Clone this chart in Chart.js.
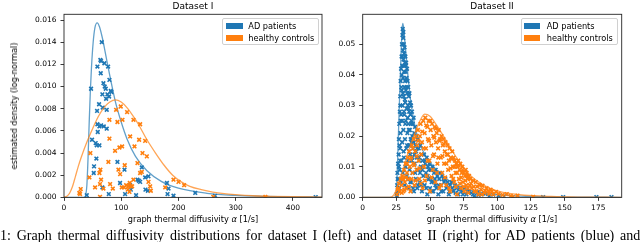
<!DOCTYPE html>
<html><head><meta charset="utf-8">
<script src="https://cdn.jsdelivr.net/npm/chart.js@4.4.0/dist/chart.umd.min.js"></script>
<style>
body{margin:0;width:640px;height:242px;overflow:hidden;background:#fff;position:relative;font-family:'DejaVu Sans',sans-serif;color:#000}
canvas{position:absolute;top:0}
.t{position:absolute;white-space:nowrap;line-height:12px;height:12px}
.c{transform:translateX(-50%)}
.title{font-size:9px}
.lab{font-size:8.2px}
.leg{position:absolute;border:1px solid #d0d0d0;border-radius:2px;background:rgba(255,255,255,0.85);box-sizing:border-box}
.patch{position:absolute;width:16.5px;height:5.8px}
.legt{position:absolute;font-size:8.2px;line-height:10px;white-space:nowrap}
.cap{position:absolute;left:0;top:229px;font-family:'Liberation Serif',serif;font-size:14px;word-spacing:2.3px;white-space:nowrap;line-height:14px}
</style></head><body>
<canvas id="c1" width="330" height="228" style="left:0"></canvas>
<canvas id="c2" width="310" height="228" style="left:330px"></canvas>

<div class="t c title" style="left:193px;top:0px">Dataset I</div>
<div class="t c title" style="left:492px;top:0px">Dataset II</div>
<div class="t c lab" style="left:193px;top:213px">graph thermal diffusivity <i>α</i> [1/s]</div>
<div class="t c lab" style="left:492px;top:213px">graph thermal diffusivity <i>α</i> [1/s]</div>
<div class="t lab" style="left:14px;top:106px;transform:translate(-50%,-50%) rotate(-90deg)">estimated density (log-normal)</div>

<div class="leg" style="left:222px;top:18px;width:97px;height:27px"></div>
<div class="patch" style="left:226px;top:22.8px;background:#1f77b4"></div>
<div class="patch" style="left:226px;top:34.8px;background:#ff7f0e"></div>
<div class="legt" style="left:248.3px;top:20.7px">AD patients</div>
<div class="legt" style="left:248.3px;top:32.7px">healthy controls</div>

<div class="leg" style="left:520.7px;top:18px;width:97px;height:27px"></div>
<div class="patch" style="left:523.5px;top:22.8px;background:#1f77b4"></div>
<div class="patch" style="left:523.5px;top:34.8px;background:#ff7f0e"></div>
<div class="legt" style="left:546.7px;top:20.7px">AD patients</div>
<div class="legt" style="left:546.7px;top:32.7px">healthy controls</div>

<div class="cap">1: Graph thermal diffusivity distributions for dataset I (left) and dataset II (right) for AD patients (blue) and</div>

<script>
// ---------- Dataset I ----------
const ds1XTicks = [0, 100, 200, 300, 400];
const ds1YTicks = [0, 0.002, 0.004, 0.006, 0.008, 0.010, 0.012, 0.014, 0.016];
const ds1BluePts = [[66.0,.0140],[63.6,.0124],[64.8,.0123],[70.6,.0121],[58.4,.0118],[77.1,.0118],[64.2,.0112],[79.4,.0106],[68.9,.0103],[71.2,.0100],[73.0,.0098],[47.3,.0098],[67.1,.0093],[75.9,.0093],[73.6,.0089],[81.7,.0096],[82.9,.0095],[78.8,.0091],[61.3,.0084],[67.7,.0081],[57.8,.0078],[74.7,.0079],[58.4,.0066],[64.8,.0065],[61.9,.0064],[69.5,.0064],[74.7,.0062],[59.0,.0059],[49.0,.0052],[55.4,.0049],[57.2,.0047],[61.9,.0047],[56.6,.0035],[52.5,.0028],[52.0,.0022],[93.4,.0032],[98.0,.0013],[105.7,.0025],[67.1,.0009],[78.3,.0003],[106.8,.0003],[126.0,.0002],[115.6,.0011],[116.8,.0007],[136.0,.0027],[128.4,.0016],[130.8,.0015],[133.1,.0014],[141.9,.0018],[147.6,.0019],[142.4,.0007],[146.6,.0006],[179.9,.0013],[182.7,.0008],[181.0,.0003],[191.4,.00015],[229.4,.0004],[39.8,.0002],[264,.00014],[440,.00003]];
const ds1OrangePts = [[91.1,.0079],[99.2,.0082],[110.3,.0077],[93.4,.0068],[102.2,.0070],[121.4,.0070],[79.4,.0070],[79.4,.0053],[133.1,.0066],[115.6,.0055],[96.9,.0045],[101.6,.0046],[89.3,.0042],[131.3,.0052],[141.9,.0051],[123.2,.0046],[137.2,.0040],[144.8,.0037],[46.1,.0040],[106.2,.0029],[77.6,.0032],[63.6,.0025],[95.2,.0025],[128.4,.0031],[61.9,.0022],[98.1,.0021],[44.4,.0018],[136.0,.0023],[133.1,.0022],[121.4,.0016],[54.3,.0009],[68.9,.0008],[80.6,.0012],[85.3,.0008],[101.0,.0009],[105.1,.0009],[108.6,.0011],[112.7,.0010],[115.0,.0013],[116.8,.0010],[119.1,.0010],[111.5,.0007],[114.4,.0005],[147.7,.0014],[150.6,.0010],[151.8,.0006],[29.2,.00075],[26.8,.0004],[28.0,.0003],[63.0,.00005],[191.4,.0016],[200.2,.0014],[210.0,.0011],[176.9,.0009],[63.0,.0012],[64.8,.0016],[261,.00005],[352,.00005]];
const ds1BlueCurve = [[0,0],[36,0],[37,0.00005],[38,0.0002],[40,0.0011],[42,0.0035],[44,0.0067],[46,0.0095],[48,0.0117],[51,0.0140],[54,0.0153],[58,0.01575],[62,0.0154],[67,0.0144],[72,0.0131],[80,0.0110],[90,0.0086],[100,0.0068],[110,0.0053],[125,0.0037],[145,0.0024],[170,0.00145],[200,0.00083],[250,0.00037],[300,0.00018],[350,0.0001],[400,0.00005],[451,0.00003]];
const ds1OrangeCurve = [[0,0.00003],[5,0.0001],[10,0.0004],[15,0.0010],[20,0.0019],[25,0.0028],[30,0.0036],[40,0.0050],[50,0.0062],[60,0.0073],[70,0.0081],[80,0.0086],[90,0.0088],[100,0.0086],[110,0.0081],[120,0.0074],[130,0.0066],[145,0.0052],[160,0.0040],[175,0.0029],[190,0.0020],[205,0.0014],[220,0.0010],[240,0.0007],[260,0.00048],[280,0.00034],[300,0.00025],[330,0.00015],[360,0.0001],[400,0.00006],[451,0.00003]];

// ---------- Dataset II ----------
const ds2XTicks = [0, 25, 50, 75, 100, 125, 150, 175];
const ds2YTicks = [0, 0.01, 0.02, 0.03, 0.04, 0.05];
const ds2BluePts = [[25.3,.001],[25.6,.004],[25.8,.008],[26.1,.002],[26.3,.011],[26.5,.006],[26.7,.014],[26.9,.019],[27.1,.003],[27.2,.024],[27.4,.009],[27.6,.028],[27.8,.016],[27.9,.033],[28.1,.021],[28.2,.038],[28.4,.005],[28.5,.042],[28.6,.027],[28.8,.012],[28.9,.046],[29.0,.035],[29.2,.050],[29.3,.018],[29.4,.043],[29.5,.053],[29.6,.030],[29.7,.055],[29.8,.008],[29.9,.048],[30.0,.039],[30.1,.052],[30.2,.022],[30.3,.045],[30.4,.033],[30.5,.050],[30.6,.013],[30.7,.041],[30.8,.047],[30.9,.027],[31.0,.036],[31.1,.049],[31.2,.004],[31.3,.044],[31.4,.019],[31.5,.038],[31.6,.031],[31.7,.046],[31.8,.010],[31.9,.041],[32.0,.025],[32.1,.035],[32.3,.044],[32.4,.016],[32.5,.039],[32.6,.029],[32.8,.007],[32.9,.042],[33.0,.034],[33.2,.021],[33.3,.038],[33.5,.012],[33.6,.030],[33.8,.036],[33.9,.024],[34.1,.003],[34.2,.033],[34.4,.017],[34.5,.028],[34.7,.034],[34.8,.009],[35.0,.022],[35.2,.031],[35.3,.014],[35.5,.027],[35.7,.019],[35.9,.030],[36.0,.005],[36.2,.025],[36.4,.012],[36.6,.028],[36.8,.020],[37.0,.008],[37.2,.024],[37.5,.016],[37.8,.026],[38.0,.002],[38.3,.021],[38.6,.011],[38.9,.023],[39.2,.017],[39.5,.006],[39.8,.020],[40.2,.013],[40.5,.003],[40.8,.019],[41.2,.009],[41.6,.016],[42.0,.012],[42.4,.005],[42.8,.017],[43.2,.010],[43.6,.014],[44.0,.002],[44.5,.012],[45.0,.007],[45.5,.014],[46.0,.004],[46.5,.011],[47.0,.008],[47.5,.013],[48.0,.001],[48.5,.010],[49.0,.006],[49.5,.011],[50.0,.003],[50.6,.009],[51.2,.005],[51.8,.010],[52.4,.002],[53.0,.008],[53.6,.006],[54.2,.009],[54.8,.003],[55.5,.007],[56.2,.001],[56.8,.006],[57.5,.008],[58.2,.004],[59.0,.007],[59.8,.002],[60.5,.005],[61.3,.006],[62.2,.003],[63.0,.005],[64.0,.001],[65.0,.004],[66.0,.005],[67.2,.002],[68.5,.004],[69.8,.003],[71.0,.001],[72.5,.003],[74.0,.002],[75.5,.003],[77.0,.001],[79.0,.002],[81.0,.0015],[83.0,.0005],[85.5,.0018],[88.0,.001],[91.0,.0012],[94.0,.0004],[97.0,.0009],[101,.0006],[105,.0003],[134,.0001],[148.9,.0001],[173.6,.0001],[184.8,.0001],
[25.5,.0005],[26.0,.006],[26.4,.003],[26.8,.010],[27.3,.017],[27.7,.012],[28.0,.030],[28.3,.025],[28.7,.036],[29.1,.040],[29.4,.025],[29.6,.046],[29.9,.034],[30.2,.054],[30.4,.015],[30.7,.028],[31.0,.043],[31.3,.032],[31.6,.024],[32.0,.043],[32.2,.011],[32.6,.036],[33.0,.017],[33.4,.026],[33.7,.006],[34.0,.029],[34.3,.022],[34.9,.017],[35.4,.005],[35.8,.024],[36.3,.018],[36.9,.013],[37.4,.003],[37.9,.018],[38.5,.014],[39.0,.008],[39.6,.015],[40.4,.016],[41.0,.004],[41.8,.013],[42.6,.008],[43.4,.004],[44.2,.009],[45.2,.010],[46.2,.012],[47.2,.003],[48.2,.007],[49.2,.009],[50.3,.006],[51.5,.002],[52.7,.005],[54.0,.004],[55.0,.008],[56.5,.004],[58.5,.002],[60.0,.006],[62.5,.004],[64.5,.002],[66.5,.003],[69.0,.0015],[71.5,.0025],[74.5,.001],[78.0,.0018],[82.0,.001],[86.0,.0008]];
const ds2OrangePts = [[25.5,.001],[26.5,.003],[27.5,.002],[28.2,.006],[28.8,.004],[29.5,.007],[30.2,.002],[30.8,.009],[31.3,.005],[31.9,.011],[32.4,.003],[32.9,.008],[33.5,.013],[34.0,.006],[34.5,.015],[35.0,.010],[35.5,.002],[36.0,.013],[36.5,.017],[37.0,.008],[37.5,.011],[38.0,.019],[38.5,.004],[39.0,.015],[39.5,.020],[40.0,.009],[40.5,.017],[41.0,.022],[41.5,.012],[42.0,.006],[42.5,.020],[43.0,.024],[43.5,.014],[44.0,.018],[44.5,.003],[45.0,.025],[45.5,.010],[46.0,.021],[46.5,.026],[47.0,.016],[47.5,.007],[48.0,.023],[48.5,.019],[49.0,.025],[49.5,.012],[50.0,.002],[50.5,.022],[51.0,.017],[51.5,.024],[52.0,.009],[52.5,.020],[53.0,.014],[53.5,.023],[54.0,.005],[54.5,.018],[55.0,.021],[55.5,.011],[56.0,.016],[56.5,.022],[57.0,.003],[57.5,.019],[58.0,.013],[58.5,.020],[59.0,.008],[59.5,.017],[60.0,.019],[60.5,.011],[61.0,.015],[61.5,.018],[62.0,.004],[62.5,.014],[63.0,.017],[63.5,.009],[64.0,.012],[64.5,.016],[65.0,.002],[65.5,.013],[66.0,.007],[66.5,.015],[67.0,.010],[67.5,.013],[68.0,.005],[68.5,.012],[69.0,.008],[69.5,.011],[70.0,.001],[70.5,.010],[71.0,.012],[71.5,.006],[72.0,.009],[72.5,.011],[73.0,.003],[73.5,.008],[74.0,.010],[74.5,.005],[75.0,.008],[75.5,.002],[76.0,.007],[76.5,.009],[77.0,.004],[77.5,.007],[78.0,.006],[78.5,.0015],[79.0,.007],[79.5,.004],[80.0,.006],[81.0,.003],[82.0,.0055],[83.0,.002],[84.0,.005],[85.0,.0035],[86.0,.001],[87.0,.004],[88.0,.0025],[89.0,.0038],[90.5,.0015],[92.0,.003],[93.5,.002],[95.0,.0025],[97.0,.001],[99.0,.0018],[101,.0012],[104,.0008],[107,.0011],[110,.0005],[111.7,.0002],[115,.0006],[126.6,.0002],
[26.0,.0025],[27.0,.0045],[29.0,.0015],[30.0,.0060],[31.0,.0025],[32.0,.0065],[33.0,.0110],[34.2,.0035],[35.2,.0125],[36.2,.0060],[37.2,.0160],[38.2,.0105],[39.2,.0055],[40.2,.0135],[41.2,.0185],[42.2,.0095],[43.2,.0045],[44.2,.0215],[45.2,.0160],[46.2,.0055],[47.2,.0235],[48.2,.0120],[49.2,.0185],[50.2,.0250],[51.2,.0065],[52.2,.0135],[53.2,.0195],[54.2,.0225],[55.2,.0080],[56.2,.0130],[57.2,.0185],[58.2,.0040],[59.2,.0135],[60.2,.0175],[61.2,.0065],[62.2,.0110],[63.2,.0140],[64.2,.0030],[65.2,.0095],[66.2,.0125],[67.2,.0060],[68.2,.0100],[69.2,.0035],[70.2,.0080],[71.2,.0105],[72.2,.0045],[73.2,.0065],[74.2,.0090],[75.2,.0035],[76.2,.0055],[77.2,.0080],[78.2,.0030],[80.5,.0045],[82.5,.0035],[84.5,.0020],[86.5,.0042],[88.5,.0010],[91.0,.0022],[94.0,.0012],[96.0,.0020]];
const ds2BlueCurve = [[0,0],[24,0],[24.8,0.0005],[25.5,0.006],[26.5,0.020],[27.5,0.034],[28.5,0.047],[29.3,0.055],[29.8,0.0568],[30.5,0.055],[31.5,0.050],[32.5,0.045],[33.8,0.039],[35.5,0.032],[37.5,0.0263],[40,0.021],[42.5,0.0176],[45,0.0150],[50,0.0115],[55,0.0089],[60,0.0068],[65,0.0052],[70,0.0040],[80,0.0024],[90,0.0015],[100,0.0009],[110,0.0006],[125,0.0003],[150,0.0001],[192,0.00003]];
const ds2OrangeCurve = [[0,0],[20,0],[22,0.0003],[24,0.0015],[26,0.004],[28,0.0065],[30,0.009],[34,0.015],[38,0.020],[42,0.0245],[46,0.0272],[50,0.0265],[55,0.0235],[60,0.0200],[65,0.0163],[70,0.0128],[75,0.0097],[80,0.0072],[87,0.0048],[95,0.0029],[100,0.0021],[110,0.0012],[120,0.0007],[140,0.0003],[160,0.00012],[192,0.00004]];

const BLUE = '#1f77b4', ORANGE = '#ff7f0e';
const toXY = a => a.map(p => ({x: p[0], y: p[1]}));

const framePlugin = {
  id: 'frame',
  afterDraw(chart) {
    const {ctx, chartArea: a} = chart;
    ctx.save();
    ctx.strokeStyle = '#262626';
    ctx.lineWidth = 0.9;
    ctx.strokeRect(a.left, a.top, a.right - a.left, a.bottom - a.top);
    ctx.restore();
  }
};

function makeChart(id, cfg) {
  const ptsDs = (data, color, order) => ({
    data: toXY(data), showLine: false, pointStyle: 'crossRot',
    pointRadius: 2.6, pointBorderWidth: 1.6, borderColor: color, backgroundColor: color, order
  });
  const lineDs = (data, color, order) => ({
    data: toXY(data), showLine: true, pointRadius: 0, borderWidth: 1.3,
    borderColor: color, cubicInterpolationMode: 'monotone', order
  });
  return new Chart(document.getElementById(id), {
    type: 'scatter',
    data: { datasets: [
      lineDs(cfg.orangeCurve, 'rgba(255,127,14,0.7)', 0),
      ptsDs(cfg.orangePts, ORANGE, 1),
      lineDs(cfg.blueCurve, 'rgba(31,119,180,0.7)', 2),
      ptsDs(cfg.bluePts, BLUE, 3)
    ]},
    options: {
      responsive: false, animation: false, devicePixelRatio: 1,
      layout: { padding: { left: 0, right: cfg.padRight, top: 14.3, bottom: 0 } },
      plugins: { legend: { display: false }, tooltip: { enabled: false } },
      scales: {
        x: {
          type: 'linear', min: 0, max: cfg.xMax,
          afterBuildTicks: s => { s.ticks = cfg.xTicks.map(v => ({value: v})); },
          afterFit: s => { s.height = 228 - 197.4; },
          grid: { drawOnChartArea: false, drawTicks: true, tickLength: 3.5, tickColor: '#262626', tickWidth: 0.9 },
          border: { display: false },
          ticks: { color: '#000', font: { family: 'DejaVu Sans', size: 7.5 }, padding: 2.5, maxRotation: 0, autoSkip: false,
                   callback: v => String(v) }
        },
        y: {
          type: 'linear', min: 0, max: cfg.yMax,
          afterBuildTicks: s => { s.ticks = cfg.yTicks.map(v => ({value: v})); },
          afterFit: s => { s.width = cfg.left; },
          grid: { drawOnChartArea: false, drawTicks: true, tickLength: 3.5, tickColor: '#262626', tickWidth: 0.9 },
          border: { display: false },
          ticks: { color: '#000', font: { family: 'DejaVu Sans', size: 7.5 }, padding: 4, autoSkip: false,
                   callback: v => v.toFixed(cfg.dec) }
        }
      }
    },
    plugins: [framePlugin]
  });
}

makeChart('c1', { bluePts: ds1BluePts, orangePts: ds1OrangePts, blueCurve: ds1BlueCurve, orangeCurve: ds1OrangeCurve,
  xTicks: ds1XTicks, yTicks: ds1YTicks, xMax: 451, yMax: 0.016515, left: 64, padRight: 8, dec: 3 });
makeChart('c2', { bluePts: ds2BluePts, orangePts: ds2OrangePts, blueCurve: ds2BlueCurve, orangeCurve: ds2OrangeCurve,
  xTicks: ds2XTicks, yTicks: ds2YTicks, xMax: 192.4, yMax: 0.05978, left: 32.7, padRight: 18.3, dec: 2 });
</script>
</body></html>
